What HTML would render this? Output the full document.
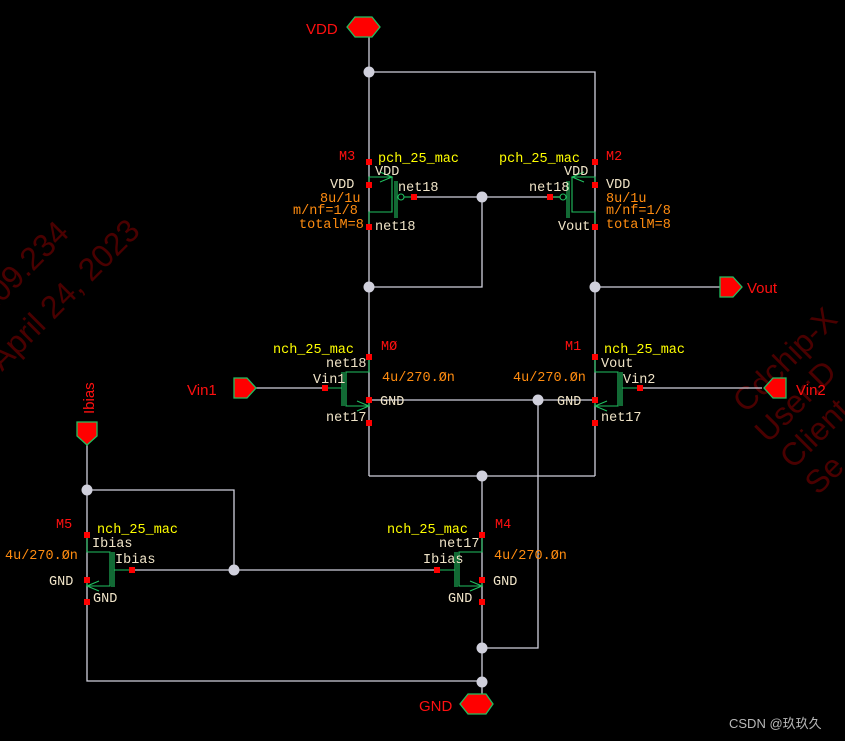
<!DOCTYPE html>
<html><head><meta charset="utf-8"><style>
html,body{margin:0;padding:0;background:#000;}
svg{display:block}
text{font-family:"Liberation Mono","DejaVu Sans Mono",monospace;font-size:13.5px;}
.w{stroke:#d0d0dc;stroke-width:1.3;fill:none}
.g{stroke:#20c060;stroke-width:1.1;fill:none}
.b{fill:#f0e4c8}.y{fill:#ffff00}.o{fill:#ff8c10}.r{fill:#ff1010}
.wm{fill:#4a0000;font-size:32px;font-family:"Liberation Sans",sans-serif}
.big{font-family:"Liberation Sans",sans-serif;font-size:15px}
</style></head><body>
<svg width="845" height="741" viewBox="0 0 845 741" xmlns="http://www.w3.org/2000/svg">
<rect width="845" height="741" fill="#000"/>
<!-- watermarks -->
<text class="wm" transform="translate(-30,335) rotate(-45)">1.109.234</text>
<text class="wm" transform="translate(2,372) rotate(-45)">April 24, 2023</text>
<text class="wm" transform="translate(746,414) rotate(-45)">Cdchip-X</text>
<text class="wm" transform="translate(768,444) rotate(-45)">User:D</text>
<text class="wm" transform="translate(793,470) rotate(-45)">Client</text>
<text class="wm" transform="translate(818,496) rotate(-45)">Se</text>

<!-- wires -->
<g class="w">
<path d="M369,37V476M369,72H595V476M369,476H595"/>
<path d="M413,197H560M482,197V287H369M595,287H720"/>
<path d="M256,388H325M640,388H762"/>
<path d="M369,400H595M538,400V648H482"/>
<path d="M482,476V694"/>
<path d="M87,445V681H482M87,490H234V570M131,570H439"/>
</g>
<!-- dots -->
<g fill="#d0d0dc">
<circle cx="369" cy="72" r="5.5"/><circle cx="482" cy="197" r="5.5"/>
<circle cx="369" cy="287" r="5.5"/><circle cx="595" cy="287" r="5.5"/>
<circle cx="538" cy="400" r="5.5"/><circle cx="482" cy="476" r="5.5"/>
<circle cx="87" cy="490" r="5.5"/><circle cx="234" cy="570" r="5.5"/>
<circle cx="482" cy="648" r="5.5"/><circle cx="482" cy="682" r="5.5"/>
</g>

<g class="g">
<path d="M369,185L369,177H392V212H369V227"/>
<path d="M380,172L392,177L380,182"/>
<path d="M395,181V218M397,181V218"/>
<circle cx="401" cy="197" r="3"/><path d="M404,197H413"/>
</g>
<g class="g">
<path d="M595,185L595,177H572V212H595V227"/>
<path d="M584,172L572,177L584,182"/>
<path d="M569,181V218M567,181V218"/>
<circle cx="563" cy="197" r="3"/><path d="M560,197H551"/>
</g>
<g class="g">
<path d="M369,357V372H346V406H369V400"/>
<path d="M357,401L369,406L357,411"/>
<path d="M342,372V406M344,372V406M325,388H342"/>
</g>
<g class="g">
<path d="M595,357V372H618V406H595V400"/>
<path d="M607,401L595,406L607,411"/>
<path d="M622,372V406M620,372V406M640,388H622"/>
</g>
<g class="g">
<path d="M482,535V552H459V586H482V580"/>
<path d="M470,581L482,586L470,591"/>
<path d="M455,552V587M457,552V587M439,570H455"/>
</g>
<g class="g">
<path d="M87,535V552H110V586H87V580"/>
<path d="M99,581L87,586L99,591"/>
<path d="M114,552V587M112,552V587M131,570H114"/>
</g>
<g fill="#ff0000">
<rect x="366" y="159" width="6" height="6"/><rect x="366" y="182" width="6" height="6"/><rect x="366" y="224" width="6" height="6"/><rect x="411" y="194" width="6" height="6"/>
<rect x="592" y="159" width="6" height="6"/><rect x="592" y="182" width="6" height="6"/><rect x="592" y="224" width="6" height="6"/><rect x="547" y="194" width="6" height="6"/>
<rect x="366" y="354" width="6" height="6"/><rect x="366" y="397" width="6" height="6"/><rect x="366" y="420" width="6" height="6"/><rect x="322" y="385" width="6" height="6"/>
<rect x="592" y="354" width="6" height="6"/><rect x="592" y="397" width="6" height="6"/><rect x="592" y="420" width="6" height="6"/><rect x="637" y="385" width="6" height="6"/>
<rect x="479" y="532" width="6" height="6"/><rect x="479" y="577" width="6" height="6"/><rect x="479" y="599" width="6" height="6"/><rect x="434" y="567" width="6" height="6"/>
<rect x="84" y="532" width="6" height="6"/><rect x="84" y="577" width="6" height="6"/><rect x="84" y="599" width="6" height="6"/><rect x="129" y="567" width="6" height="6"/>
</g>
<g fill="#ff0000" stroke="#20c060" stroke-width="1.3">
<polygon points="347,27 355,17 372,17 380,27 372,37 355,37"/>
<polygon points="460,704 468,694 486,694 493,704 486,714 468,714"/>
<polygon points="720,277 733,277 742,287 733,297 720,297"/>
<polygon points="234,378 247,378 256,388 247,398 234,398"/>
<polygon points="786,378 773,378 764,388 773,398 786,398"/>
<polygon points="77,422 97,422 97,436 87,445 77,436"/>
</g>
<text class="r big" x="306" y="34">VDD</text>
<text class="r big" x="419" y="711">GND</text>
<text class="r big" x="747" y="293">Vout</text>
<text class="r big" x="187" y="395">Vin1</text>
<text class="r big" x="796" y="395">Vin2</text>
<text class="r big" transform="translate(94,414) rotate(-90)">Ibias</text>

<text class="r" x="339" y="160">M3</text>
<text class="y" x="378" y="162">pch_25_mac</text>
<text class="b" x="375" y="175">VDD</text>
<text class="b" x="330" y="188">VDD</text>
<text class="o" x="320" y="202">8u/1u</text>
<text class="o" x="293" y="214">m/nf=1/8</text>
<text class="o" x="299" y="228">totalM=8</text>
<text class="b" x="398" y="191">net18</text>
<text class="b" x="375" y="230">net18</text>
<text class="r" x="606" y="160">M2</text>
<text class="y" x="499" y="162">pch_25_mac</text>
<text class="b" x="564" y="175">VDD</text>
<text class="b" x="606" y="188">VDD</text>
<text class="o" x="606" y="202">8u/1u</text>
<text class="o" x="606" y="214">m/nf=1/8</text>
<text class="o" x="606" y="228">totalM=8</text>
<text class="b" x="529" y="191">net18</text>
<text class="b" x="558" y="230">Vout</text>
<text class="r" x="381" y="350">MØ</text>
<text class="y" x="273" y="353">nch_25_mac</text>
<text class="b" x="326" y="367">net18</text>
<text class="b" x="313" y="383">Vin1</text>
<text class="o" x="382" y="381">4u/270.Øn</text>
<text class="b" x="380" y="405">GND</text>
<text class="b" x="326" y="421">net17</text>
<text class="r" x="565" y="350">M1</text>
<text class="y" x="604" y="353">nch_25_mac</text>
<text class="b" x="601" y="367">Vout</text>
<text class="b" x="623" y="383">Vin2</text>
<text class="o" x="513" y="381">4u/270.Øn</text>
<text class="b" x="557" y="405">GND</text>
<text class="b" x="601" y="421">net17</text>
<text class="r" x="56" y="528">M5</text>
<text class="y" x="97" y="533">nch_25_mac</text>
<text class="b" x="92" y="547">Ibias</text>
<text class="o" x="5" y="559">4u/270.Øn</text>
<text class="b" x="115" y="563">Ibias</text>
<text class="b" x="49" y="585">GND</text>
<text class="b" x="93" y="602">GND</text>
<text class="r" x="495" y="528">M4</text>
<text class="y" x="387" y="533">nch_25_mac</text>
<text class="b" x="439" y="547">net17</text>
<text class="o" x="494" y="559">4u/270.Øn</text>
<text class="b" x="423" y="563">Ibias</text>
<text class="b" x="493" y="585">GND</text>
<text class="b" x="448" y="602">GND</text>

<text x="729" y="728" style="font-family:'Liberation Sans','Noto Sans CJK SC',sans-serif;font-size:13px;fill:#b8b8b8">CSDN @玖玖久</text>
</svg>
</body></html>
